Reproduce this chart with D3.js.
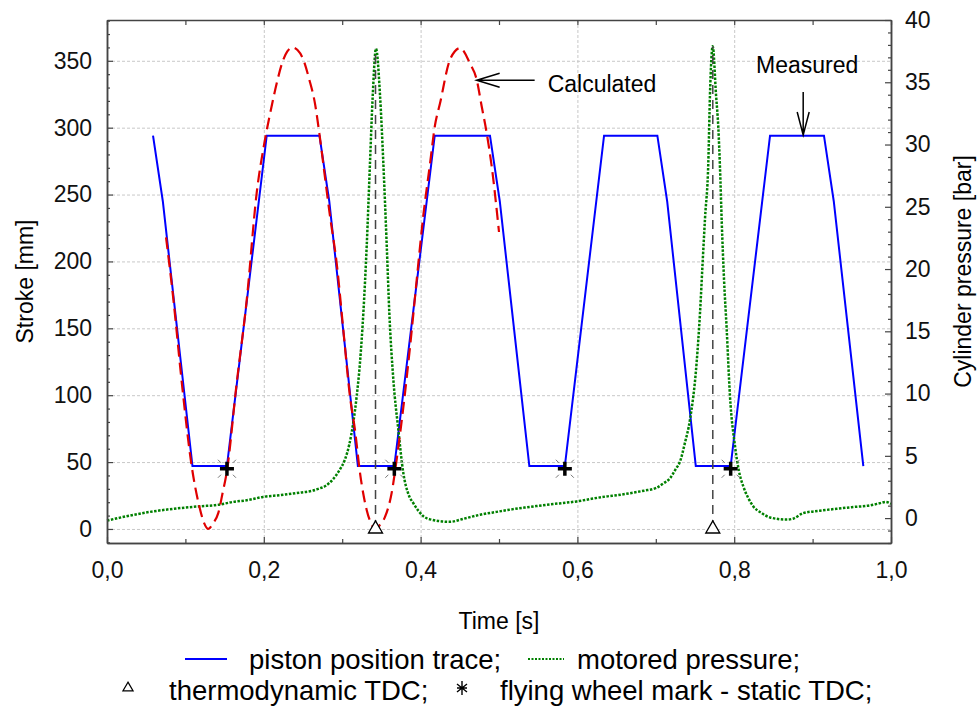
<!DOCTYPE html>
<html>
<head>
<meta charset="utf-8">
<script src="https://cdn.jsdelivr.net/npm/d3@7/dist/d3.min.js"></script>
<style>
  body { margin: 0; background: #fff; }
  svg { display: block; font-family: 'Liberation Sans', Arial, sans-serif; }
</style>
</head>
<body>
<div id="chart"></div>
<script>
/* global d3 */

// piston position trace (measured) : time [s] / stroke [mm]
var pistonTime = [0.0587, 0.0712, 0.109, 0.153, 0.2037, 0.271, 0.2835, 0.320, 0.3665, 0.418,
  0.4885, 0.501, 0.5387, 0.584, 0.634, 0.702, 0.7145, 0.751, 0.7955, 0.8457, 0.9145, 0.927, 0.9647];
var pistonStroke = [294, 245, 47, 47, 294, 294, 245, 47, 47, 294,
  294, 245, 47, 47, 294, 294, 245, 47, 47, 294, 294, 245, 47];

// calculated piston position : time [s] / stroke [mm]
var calcTime = [0.0753, 0.0846, 0.0953, 0.108, 0.1177, 0.1235, 0.1292, 0.135, 0.142, 0.1475,
  0.1526, 0.1654, 0.1782, 0.1909, 0.2015, 0.210, 0.2164, 0.224, 0.230, 0.2368,
  0.243, 0.2496, 0.258, 0.2653, 0.2708, 0.278, 0.2844, 0.2929, 0.3014, 0.3099,
  0.3163, 0.3227, 0.3313, 0.337, 0.3425, 0.348, 0.3546, 0.3631, 0.3695, 0.3865,
  0.395, 0.4034, 0.412, 0.4184, 0.4247, 0.4366, 0.4435, 0.4503, 0.463, 0.4715,
  0.4779, 0.4843, 0.4907, 0.500];
var calcStroke = [218, 172, 110, 47, 17, 5, 0, 4, 12, 27,
  42, 109, 171, 251, 291, 316, 333, 349.5, 357, 360,
  358, 352, 336, 318, 296, 263, 234, 199, 149, 99,
  74, 42, 14, 4, 0, 3, 9, 27, 52, 136,
  186, 234, 273, 302, 318, 349.5, 357, 359.5, 348, 336,
  316, 296, 271, 222];

// motored cylinder pressure : time [s] / pressure [bar]
var pressTime = [0.000, 0.025, 0.055, 0.085, 0.119, 0.140, 0.161, 0.180, 0.199, 0.222,
  0.246, 0.262, 0.2695, 0.279, 0.2887, 0.297, 0.3035, 0.309, 0.3142, 0.3185,
  0.3227, 0.327, 0.3313, 0.3355, 0.339, 0.3431, 0.3482, 0.3524, 0.3568, 0.3601,
  0.3652, 0.3716, 0.378, 0.384, 0.3907, 0.397, 0.4035, 0.412, 0.4375, 0.455,
  0.4758, 0.497, 0.518, 0.540, 0.5608, 0.580, 0.599, 0.618, 0.637, 0.652,
  0.667, 0.685, 0.7005, 0.710, 0.7181, 0.725, 0.731, 0.737, 0.7436, 0.7521,
  0.7564, 0.7598, 0.7628, 0.767, 0.7691, 0.7726, 0.7768, 0.7798, 0.7819, 0.7841,
  0.787, 0.7904, 0.7946, 0.801, 0.806, 0.8116, 0.818, 0.8244, 0.835, 0.8457,
  0.8669, 0.875, 0.888, 0.9094, 0.9307, 0.9519, 0.9732, 0.986, 0.993, 1.000];
var pressBar = [-0.2, 0.15, 0.5, 0.75, 0.95, 1.05, 1.3, 1.45, 1.7, 1.85,
  2.05, 2.2, 2.35, 2.6, 3.15, 3.9, 4.7, 5.9, 7.7, 9.8,
  12.5, 16.5, 21.9, 28.6, 34.0, 37.7, 34.0, 28.6, 21.9, 16.5,
  11.15, 7.1, 3.6, 2.0, 1.2, 0.6, 0.15, -0.1, -0.3, -0.05,
  0.27, 0.5, 0.72, 0.9, 1.07, 1.2, 1.34, 1.55, 1.74, 1.85,
  2.0, 2.2, 2.42, 2.8, 3.2, 3.9, 4.56, 6.0, 7.9, 12.5,
  16.5, 20.6, 24.1, 28.6, 34.0, 37.9, 34.0, 31.3, 28.1, 23.8,
  19.2, 15.2, 9.8, 5.8, 3.8, 2.55, 1.6, 0.94, 0.4, 0.05,
  -0.12, -0.05, 0.4, 0.59, 0.75, 0.89, 1.02, 1.2, 1.3, 1.15];

// thermodynamic TDC (time, pressure peak) and flying wheel marks
var tdcTime = [0.3425, 0.7727];
var tdcPeak = [37.7, 37.9];
var markTime = [0.153, 0.3665, 0.584, 0.7955];
var markStroke = [45, 45, 45, 45];

// ticks
var timeTicks = [0, 0.2, 0.4, 0.6, 0.8, 1.0];
var timeMinor = [0.1, 0.3, 0.5, 0.7, 0.9];
var strokeTicks = [0, 50, 100, 150, 200, 250, 300, 350];
var pressTicks = [0, 5, 10, 15, 20, 25, 30, 35, 40];

// texts
var xTitle = 'Time [s]';
var yTitleLeft = 'Stroke [mm]';
var yTitleRight = 'Cylinder pressure [bar]';
var legendLabels = ['piston position trace;', 'motored pressure;', 'thermodynamic TDC;', 'flying wheel mark - static TDC;'];
var noteCalc = 'Calculated';
var noteMeas = 'Measured';

(function() {
  var width = 977;
  var height = 708;
  var margin = { top: 20, right: 86, bottom: 165, left: 107 };
  var w = width - margin.left - margin.right;
  var h = height - margin.top - margin.bottom;

  var axisColor = '#444';
  var fontSize = 23;

  var svg = d3.select('#chart').append('svg')
    .attr('width', width)
    .attr('height', height);

  var g = svg.append('g')
    .attr('transform', 'translate(' + margin.left + ',' + margin.top + ')');

  var xScale = d3.scaleLinear().domain([0, 1]).range([0, w]);
  var yLeft = d3.scaleLinear().domain([-10.5, 380.5]).range([h, 0]);
  var yRight = d3.scaleLinear().domain([-2, 40]).range([h, 0]);

  // grid
  g.append('g')
    .attr('class', 'grid')
    .call(d3.axisLeft(yLeft).tickValues(strokeTicks).tickSize(-w).tickFormat(''));
  g.append('g')
    .attr('class', 'grid')
    .attr('transform', 'translate(0,' + h + ')')
    .call(d3.axisBottom(xScale).tickValues([0.2, 0.4, 0.6, 0.8]).tickSize(-h).tickFormat(''));
  g.selectAll('.grid .domain').remove();
  g.selectAll('.grid line')
    .attr('stroke', '#c8c8c8')
    .attr('stroke-width', 1)
    .attr('stroke-dasharray', '3,2');

  // curves
  var pistonData = pistonTime.map(function(t, i) { return [t, pistonStroke[i]]; });
  var calcData = calcTime.map(function(t, i) { return [t, calcStroke[i]]; });
  var pressData = pressTime.map(function(t, i) { return [t, pressBar[i]]; });

  var lineLeft = d3.line()
    .x(function(d) { return xScale(d[0]); })
    .y(function(d) { return yLeft(d[1]); });
  var lineRight = d3.line()
    .x(function(d) { return xScale(d[0]); })
    .y(function(d) { return yRight(d[1]); });

  g.append('path')
    .datum(pistonData)
    .attr('d', lineLeft)
    .attr('fill', 'none')
    .attr('stroke', '#0000ff')
    .attr('stroke-width', 2);

  g.append('path')
    .datum(pressData)
    .attr('d', lineRight.curve(d3.curveMonotoneX))
    .attr('fill', 'none')
    .attr('stroke', '#008000')
    .attr('stroke-width', 2.5)
    .attr('stroke-dasharray', '2.5,1.5');

  g.append('path')
    .datum(calcData)
    .attr('d', lineLeft.curve(d3.curveMonotoneX))
    .attr('fill', 'none')
    .attr('stroke', '#e00000')
    .attr('stroke-width', 2.2)
    .attr('stroke-dasharray', '12,6');

  // TDC dashed verticals
  g.selectAll('.tdc-line')
    .data(tdcTime)
    .enter()
    .append('line')
    .attr('class', 'tdc-line')
    .attr('x1', function(d) { return xScale(d); })
    .attr('x2', function(d) { return xScale(d); })
    .attr('y1', yLeft(0))
    .attr('y2', function(d, i) { return yRight(tdcPeak[i]); })
    .attr('stroke', '#444')
    .attr('stroke-width', 1.5)
    .attr('stroke-dasharray', '9,6');

  // triangles
  var tri = d3.symbol().type(d3.symbolTriangle).size(85);
  g.selectAll('.tdc-mark')
    .data(tdcTime)
    .enter()
    .append('path')
    .attr('class', 'tdc-mark')
    .attr('d', tri)
    .attr('transform', function(d) { return 'translate(' + xScale(d) + ',' + yLeft(0) + ')'; })
    .attr('fill', '#fff')
    .attr('stroke', '#000')
    .attr('stroke-width', 1.3);

  // flying wheel marks
  var marks = g.selectAll('.fw-mark')
    .data(markTime)
    .enter()
    .append('g')
    .attr('class', 'fw-mark')
    .attr('transform', function(d, i) { return 'translate(' + xScale(d) + ',' + yLeft(markStroke[i]) + ')'; });
  marks.append('path')
    .attr('d', 'M-6,-6L-9,-9M6,-6L9,-9M-6,6L-9,9M6,6L9,9')
    .attr('stroke', '#777')
    .attr('stroke-width', 1);
  marks.append('path')
    .attr('d', 'M-7,0H7M0,-7V7')
    .attr('stroke', '#000')
    .attr('stroke-width', 3.5);

  // axes
  function styleAxis(sel) {
    sel.selectAll('.domain').attr('stroke', axisColor).attr('stroke-width', 1.5);
    sel.selectAll('.tick line').attr('stroke', axisColor).attr('stroke-width', 1.2);
    sel.selectAll('.tick text')
      .attr('fill', '#111')
      .style('font-size', fontSize + 'px')
      .style('font-family', "'Liberation Sans', Arial, sans-serif");
  }

  var minorLeft = d3.range(-10, 381, 10).filter(function(v) { return v % 50 !== 0; });
  var minorRight = d3.range(-2, 41, 1).filter(function(v) { return v % 5 !== 0; });

  g.append('g').call(d3.axisLeft(yLeft).tickValues(minorLeft).tickSize(-3).tickSizeOuter(0).tickFormat('')).call(styleAxis);
  g.append('g').call(d3.axisLeft(yLeft).tickValues(strokeTicks).tickSize(-6).tickSizeOuter(0).tickPadding(15)).call(styleAxis);

  g.append('g').attr('transform', 'translate(' + w + ',0)')
    .call(d3.axisRight(yRight).tickValues(minorRight).tickSize(-3).tickSizeOuter(0).tickFormat('')).call(styleAxis);
  g.append('g').attr('transform', 'translate(' + w + ',0)')
    .call(d3.axisRight(yRight).tickValues(pressTicks).tickSize(-6).tickSizeOuter(0).tickPadding(14)).call(styleAxis);

  var commaFormat = function(d) { return d3.format('.1f')(d).replace('.', ','); };
  g.append('g').attr('transform', 'translate(0,' + h + ')')
    .call(d3.axisBottom(xScale).tickValues(timeMinor).tickSize(-4).tickSizeOuter(0).tickFormat('')).call(styleAxis);
  g.append('g').attr('transform', 'translate(0,' + h + ')')
    .call(d3.axisBottom(xScale).tickValues(timeTicks).tickSize(-6).tickSizeOuter(0).tickPadding(19).tickFormat(commaFormat)).call(styleAxis);

  g.append('g')
    .call(d3.axisTop(xScale).tickValues(timeMinor.concat(timeTicks)).tickSize(-5).tickSizeOuter(0).tickFormat('')).call(styleAxis);

  // axis titles
  g.append('text')
    .attr('x', w / 2)
    .attr('y', h + 86)
    .attr('text-anchor', 'middle')
    .style('font-size', fontSize + 'px')
    .text(xTitle);
  g.append('text')
    .attr('transform', 'translate(' + (33 - margin.left) + ',' + (h / 2) + ') rotate(-90)')
    .attr('text-anchor', 'middle')
    .style('font-size', fontSize + 'px')
    .text(yTitleLeft);
  g.append('text')
    .attr('transform', 'translate(' + (971 - margin.left) + ',' + (h / 2 - 10) + ') rotate(-90)')
    .attr('text-anchor', 'middle')
    .style('font-size', fontSize + 'px')
    .text(yTitleRight);

  // annotations
  var calcX = xScale(0.4715);
  var calcY = yLeft(335.5);
  g.append('path')
    .attr('d', 'M' + calcX + ',' + calcY + 'h58M' + (calcX + 23) + ',' + (calcY - 7) + 'L' + calcX + ',' + calcY + 'L' + (calcX + 23) + ',' + (calcY + 7))
    .attr('fill', 'none')
    .attr('stroke', '#000')
    .attr('stroke-width', 1.5);
  g.append('text')
    .attr('x', calcX + 71)
    .attr('y', calcY + 12)
    .style('font-size', fontSize + 'px')
    .text(noteCalc);

  var measX = xScale(0.888);
  var measY = yLeft(294.5);
  g.append('path')
    .attr('d', 'M' + measX + ',' + measY + 'v-43M' + (measX - 6) + ',' + (measY - 23) + 'L' + measX + ',' + measY + 'L' + (measX + 6) + ',' + (measY - 23))
    .attr('fill', 'none')
    .attr('stroke', '#000')
    .attr('stroke-width', 1.5);
  g.append('text')
    .attr('x', measX + 4)
    .attr('y', measY - 62)
    .attr('text-anchor', 'middle')
    .style('font-size', fontSize + 'px')
    .text(noteMeas);

  // legend
  var lg = svg.append('g').style('font-size', '27.5px');
  var row1 = 659;
  var row2 = 690;
  lg.append('line').attr('x1', 185).attr('x2', 227).attr('y1', row1).attr('y2', row1)
    .attr('stroke', '#0000ff').attr('stroke-width', 2);
  lg.append('text').attr('x', 249).attr('y', row1).attr('dy', '0.35em').text(legendLabels[0]);
  lg.append('line').attr('x1', 528).attr('x2', 564).attr('y1', row1).attr('y2', row1)
    .attr('stroke', '#008000').attr('stroke-width', 2).attr('stroke-dasharray', '2,1.5');
  lg.append('text').attr('x', 577).attr('y', row1).attr('dy', '0.35em').text(legendLabels[1]);

  lg.append('path')
    .attr('d', d3.symbol().type(d3.symbolTriangle).size(45))
    .attr('transform', 'translate(128,' + (row2 - 2) + ')')
    .attr('fill', '#fff')
    .attr('stroke', '#000')
    .attr('stroke-width', 1.2);
  lg.append('text').attr('x', 169).attr('y', row2).attr('dy', '0.35em').text(legendLabels[2]);
  lg.append('path')
    .attr('d', 'M0,-7V7M-5,0H5M-5,-4L5,4M-5,4L5,-4')
    .attr('transform', 'translate(462,' + (row2 - 2) + ')')
    .attr('stroke', '#000')
    .attr('stroke-width', 1.4);
  lg.append('text').attr('x', 500).attr('y', row2).attr('dy', '0.35em').text(legendLabels[3]);
})();
</script>
</body>
</html>
